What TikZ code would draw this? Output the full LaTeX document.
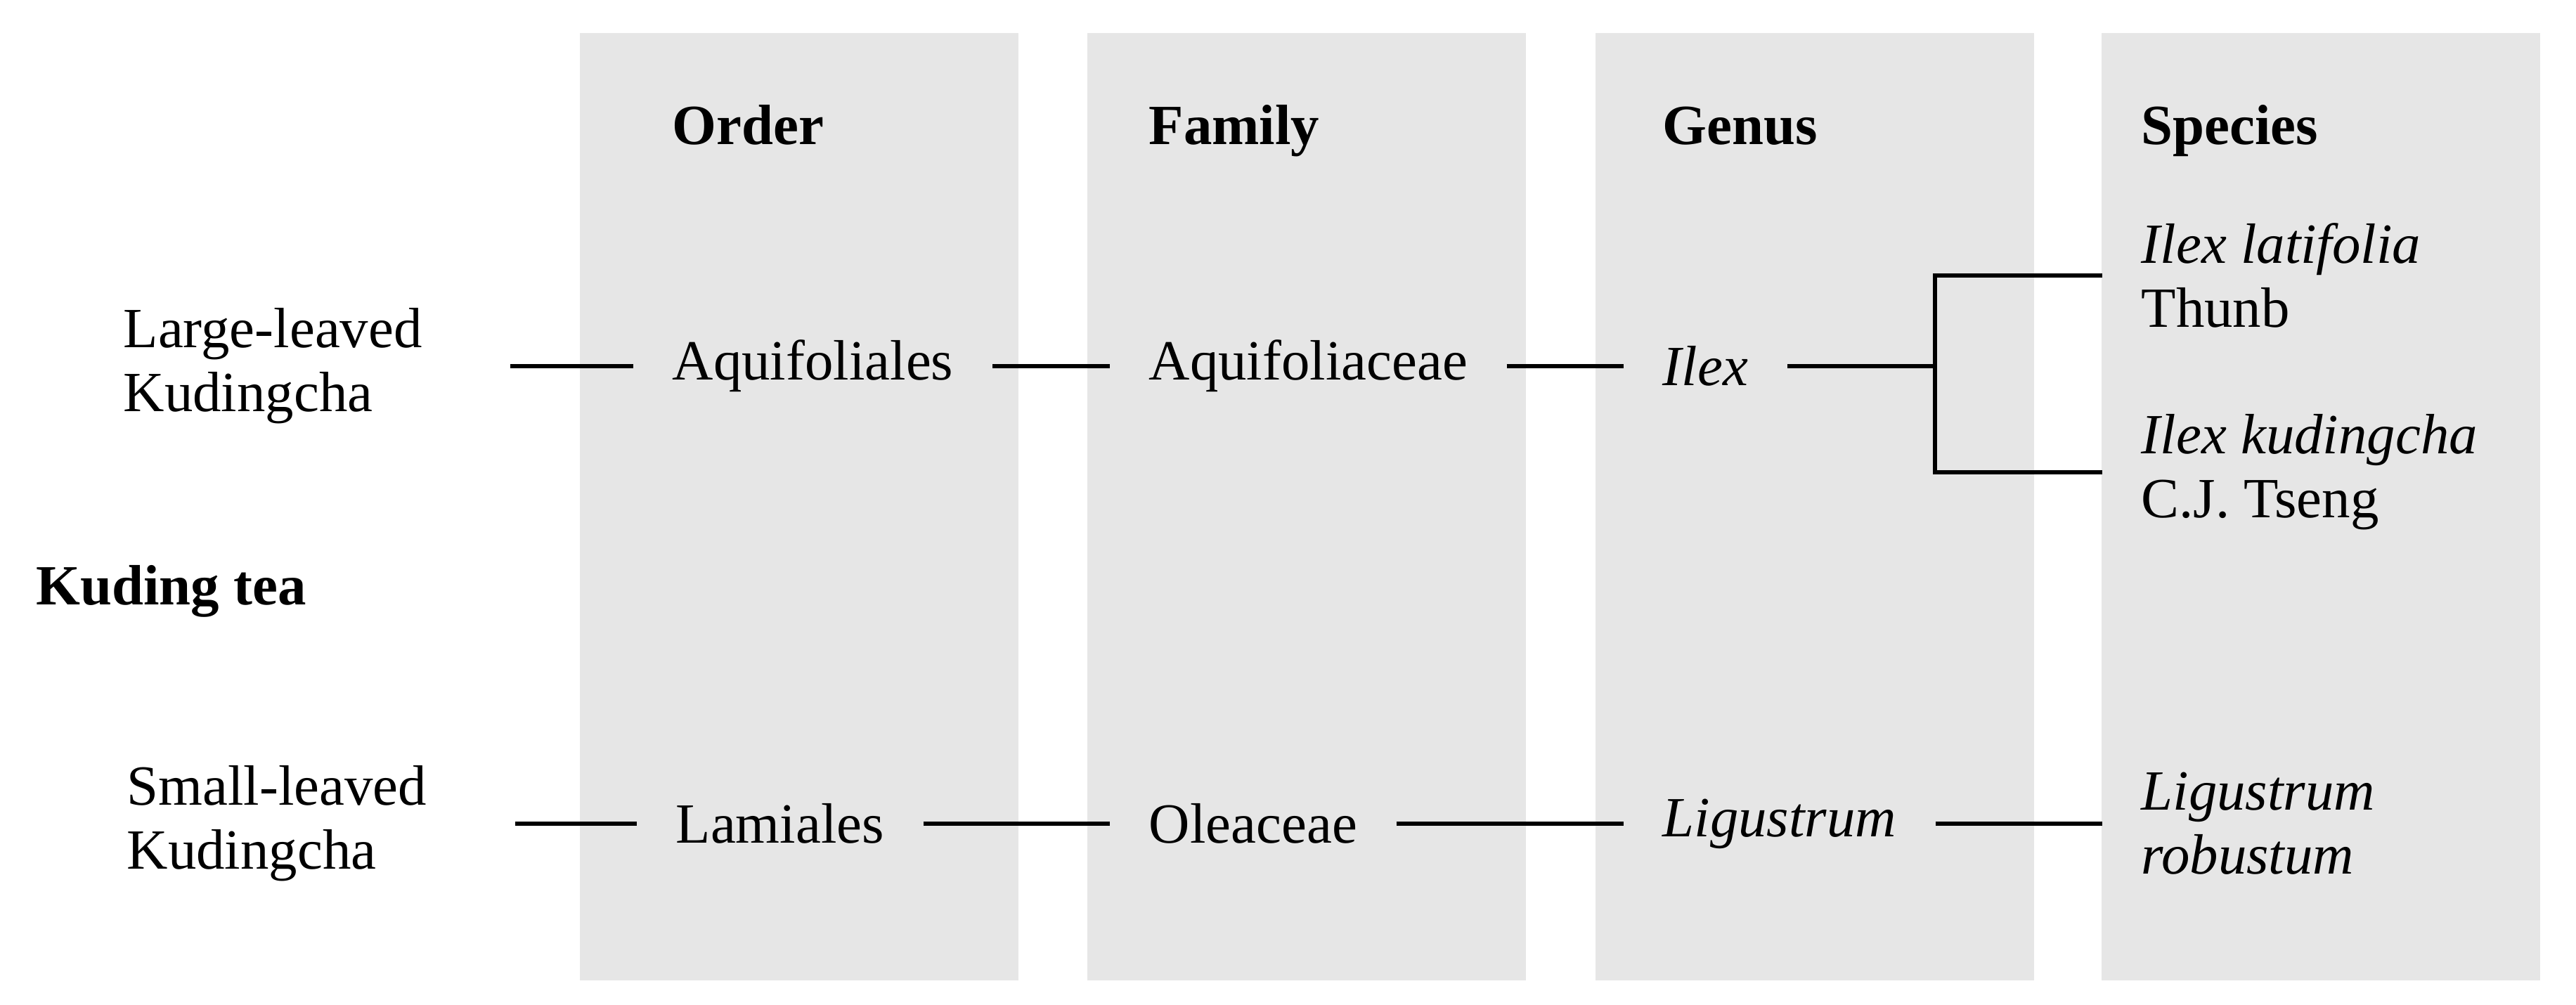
\documentclass[tikz,border=0pt]{standalone}
\usepackage{fontspec}
\setmainfont{Liberation Serif}
\definecolor{panelgray}{RGB}{230,230,230}
\begin{document}
\begin{tikzpicture}[
	every node/.style={font=\fontsize{23}{26}\selectfont},
	lbl/.style={anchor=west,align=left,inner xsep=5.5mm,inner ysep=0pt,xshift=-5.5mm},
	head/.style={anchor=base west,inner sep=0pt,font=\fontsize{23}{26}\selectfont\bfseries},
	link/.style={line width=1.6pt}]
\useasboundingbox (0,0) rectangle (36.65,14.30);
\foreach \x in {8.25,15.47,22.70,29.90}
	\fill[panelgray] (\x,0.35) rectangle ++(6.24,13.48);
\node[head] (order) at (9.56,12.24) {Order};
\node[head] (family) at (16.34,12.24) {Family};
\node[head] (genus) at (23.65,12.24) {Genus};
\node[head] (species) at (30.46,12.24) {Species};
\node[lbl,font=\fontsize{23}{26}\selectfont\bfseries] (kuding) at (0.51,5.89) {Kuding tea};
\node[lbl] (large) at (1.75,9.09) {Large-leaved\\Kudingcha};
\node[lbl] (small) at (1.80,2.58) {Small-leaved\\Kudingcha};
\node[lbl] (aquiord) at (9.56,9.09) {Aquifoliales};
\node[lbl] (lamiord) at (9.61,2.58) {Lamiales};
\node[lbl] (aquifam) at (16.34,9.09) {Aquifoliaceae};
\node[lbl] (oleafam) at (16.34,2.58) {Oleaceae};
\node[lbl] (ilex) at (23.65,9.09) {\textit{Ilex}};
\node[lbl] (ligus) at (23.65,2.58) {\textit{Ligustrum}};
\node[lbl] (latif) at (30.46,10.38) {\textit{Ilex latifolia}\\Thunb};
\node[lbl] (kudin) at (30.46,7.58) {\textit{Ilex kudingcha}\\C.J. Tseng};
\node[lbl] (robus) at (30.46,2.58) {\textit{Ligustrum}\\\textit{robustum}};
\coordinate (fork) at (27.53,9.09);
\draw[link,shorten <=7mm] (large) -- (aquiord);
\draw[link,shorten <=7mm] (small) -- (lamiord);
\draw[link] (aquiord) -- (aquifam);
\draw[link] (lamiord) -- (oleafam);
\draw[link] (aquifam) -- (ilex);
\draw[link] (oleafam) -- (ligus);
\draw[link] (ilex) -- (fork);
\draw[link] (fork) |- (latif.west);
\draw[link] (fork) |- (kudin.west);
\draw[link] (ligus) -- (robus);
\end{tikzpicture}
\end{document}
